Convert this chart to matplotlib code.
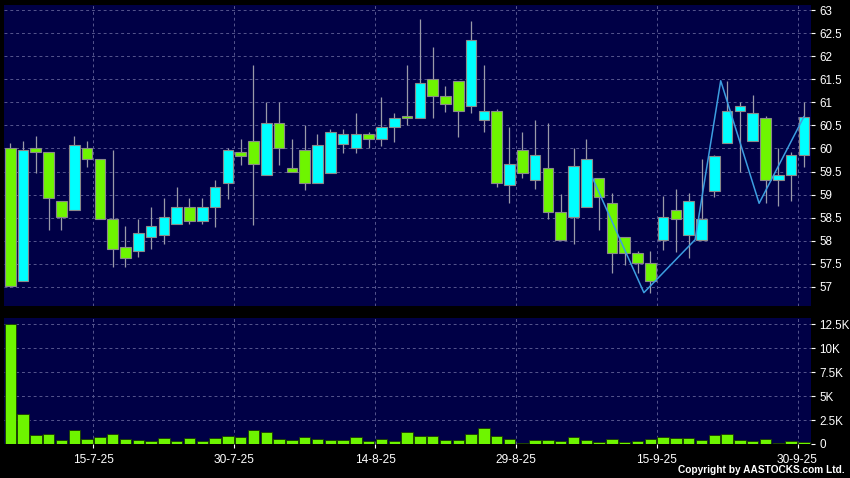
import matplotlib
matplotlib.use("Agg")
import matplotlib.pyplot as plt
import numpy as np
import pandas as pd

# ---- data ----
dates = [d.strftime("%-d-%-m-%y") for d in pd.bdate_range("2025-07-04", "2025-09-30")]

opens = [60.00, 57.12, 60.00, 59.92, 58.85, 58.66, 60.00, 59.77, 58.46, 57.86,
         57.77, 58.07, 58.12, 58.36, 58.72, 58.42, 58.72, 59.26, 59.92, 60.16,
         59.42, 60.55, 59.57, 59.96, 59.26, 59.46, 60.10, 60.00, 60.31, 60.20,
         60.46, 60.71, 60.66, 61.50, 61.15, 61.46, 60.92, 60.61, 60.81, 59.20,
         59.96, 59.31, 59.57, 58.62, 58.51, 58.72, 59.35, 58.81, 58.07, 57.73,
         57.51, 58.01, 58.67, 58.12, 58.01, 59.07, 60.11, 60.81, 60.16, 60.66,
         59.31, 59.42, 59.85]
highs = [60.11, 60.16, 60.27, 59.92, 58.85, 60.27, 60.16, 59.77, 59.97, 58.32,
         58.46, 58.72, 58.92, 59.16, 58.92, 58.92, 59.32, 60.00, 60.21, 61.81,
         61.01, 61.01, 60.21, 60.50, 60.31, 60.42, 60.42, 60.76, 60.35, 61.11,
         60.76, 61.81, 62.81, 62.20, 61.36, 61.46, 62.77, 61.81, 60.86, 60.47,
         60.36, 60.62, 60.55, 59.01, 60.02, 60.21, 59.35, 59.03, 58.07, 57.78,
         57.78, 58.97, 59.13, 59.03, 59.77, 59.85, 61.47, 61.01, 61.16, 60.71,
         60.00, 59.92, 61.01]
lows = [57.00, 57.12, 59.46, 58.23, 58.22, 58.66, 59.60, 58.46, 57.42, 57.42,
        57.65, 57.81, 57.92, 58.36, 58.36, 58.36, 58.30, 58.90, 59.65, 58.34,
        59.42, 59.65, 59.50, 59.10, 59.26, 59.46, 59.91, 59.91, 60.00, 60.06,
        60.15, 60.50, 60.66, 60.66, 60.80, 60.26, 60.76, 60.35, 59.16, 58.81,
        59.35, 59.11, 58.46, 58.01, 57.92, 58.72, 58.22, 57.30, 57.46, 57.30,
        56.87, 57.80, 57.76, 57.62, 58.01, 58.95, 60.11, 59.50, 60.16, 58.81,
        58.76, 58.85, 59.60]
closes = [57.02, 59.96, 59.92, 58.92, 58.51, 60.07, 59.77, 58.46, 57.81, 57.62,
          58.16, 58.32, 58.51, 58.72, 58.42, 58.72, 59.16, 59.96, 59.84, 59.66,
          60.55, 60.00, 59.50, 59.26, 60.07, 60.35, 60.31, 60.31, 60.20, 60.46,
          60.66, 60.66, 61.42, 61.15, 60.96, 60.81, 62.35, 60.81, 59.26, 59.66,
          59.46, 59.85, 58.62, 58.01, 59.62, 59.77, 58.95, 57.73, 57.73, 57.51,
          57.12, 58.51, 58.46, 58.85, 58.46, 59.84, 60.81, 60.92, 60.76, 59.32,
          59.42, 59.85, 60.69]
volume_k = [12.5, 3.1, 0.92, 1.09, 0.46, 1.44, 0.49, 0.78, 1.02, 0.49,
            0.46, 0.32, 0.60, 0.35, 0.60, 0.32, 0.60, 0.88, 0.70, 1.51,
            1.30, 0.56, 0.39, 0.78, 0.49, 0.42, 0.42, 0.70, 0.28, 0.53,
            0.28, 1.30, 0.81, 0.81, 0.42, 0.46, 1.05, 1.62, 0.81, 0.53,
            0.15, 0.39, 0.39, 0.32, 0.74, 0.39, 0.25, 0.56, 0.18, 0.32,
            0.56, 0.74, 0.67, 0.67, 0.46, 0.92, 1.02, 0.42, 0.32, 0.53,
            0.11, 0.28, 0.18]

# zigzag overlay (position in candle units, price)
zz_pos = [45.5, 49.5, 53.5, 55.5, 58.5, 62.0]
zz_val = [59.35, 56.87, 58.02, 61.47, 58.81, 60.69]

date_labels = ["15-7-25", "30-7-25", "14-8-25", "29-8-25", "15-9-25", "30-9-25"]
price_ticks = [57, 57.5, 58, 58.5, 59, 59.5, 60, 60.5, 61, 61.5, 62, 62.5, 63]
vol_ticks = [0, 2.5, 5, 7.5, 10, 12.5]
vol_tick_labels = ["0", "2.5K", "5K", "7.5K", "10K", "12.5K"]

# ---- style ----
NAVY = "#000046"
GREEN = "#6EF500"
CYAN = "#00FFFF"
GRID = "#56568e"

W, H = 850, 478
fig = plt.figure(figsize=(W / 100, H / 100), dpi=100, facecolor="black")
ax = fig.add_axes([4 / W, 1 - 306 / H, 806.7 / W, 301 / H])
axv = fig.add_axes([4 / W, 1 - 444 / H, 806.7 / W, 125.7 / H])

x = np.arange(len(dates))
o = np.array(opens); c = np.array(closes)
hi = np.array(highs); lo = np.array(lows)
up = c >= o
colors = np.where(up, CYAN, GREEN)

tick_pos = [dates.index(lbl) - 0.5 for lbl in date_labels]

for a in (ax, axv):
    a.set_facecolor(NAVY)
    for s in a.spines.values():
        s.set_visible(False)
    a.set_xlim(-0.49, 62.53)
    a.set_xticks(tick_pos)
    a.grid(True, color=GRID, linestyle=(0, (3, 3)), linewidth=0.7)
    a.set_axisbelow(True)
    a.yaxis.tick_right()
    a.tick_params(axis="y", colors="white", length=3, width=0.8, pad=3,
                  labelsize=8.4)

# price panel
ax.vlines(x, lo, hi, color="#9a9aa8", linewidth=0.9, zorder=2)
ax.bar(x, np.maximum(np.abs(c - o), 0.02), bottom=np.minimum(o, c), width=0.84,
       color=colors, edgecolor="#8a8a8a", linewidth=0.8, zorder=3)
ax.plot(zz_pos, zz_val, color="#3c9ee0", linewidth=1.1, zorder=4)
ax.set_ylim(56.58, 63.115)
ax.set_yticks(price_ticks)
ax.set_yticklabels(["%g" % t for t in price_ticks], fontfamily="Liberation Sans")
ax.tick_params(axis="x", length=0, labelbottom=False)

# volume panel
axv.bar(x, volume_k, width=0.9, color=GREEN, edgecolor="#1a3a00", linewidth=0.6,
        zorder=3)
axv.set_ylim(0, 13.1)
axv.set_yticks(vol_ticks)
axv.set_yticklabels(vol_tick_labels, fontfamily="Liberation Sans")
axv.set_xticklabels(date_labels, fontfamily="Liberation Sans")
axv.tick_params(axis="x", colors="white", length=3, width=0.8, pad=4,
                labelsize=8.6)

fig.text(845 / W, 1 - 470 / H, "Copyright by AASTOCKS.com Ltd.", color="white",
         ha="right", va="center", fontsize=7.3, fontweight="bold",
         fontfamily="Liberation Sans")

fig.savefig("out.png", dpi=100, facecolor="black")
